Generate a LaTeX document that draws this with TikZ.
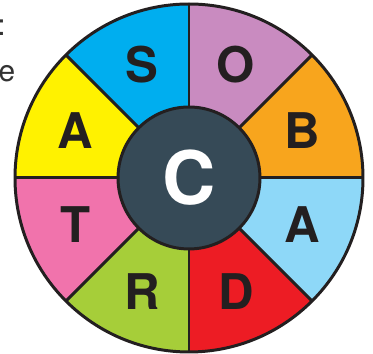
\documentclass[tikz,border=0pt]{standalone}
\usepackage{fontspec}
\setmainfont{TeX Gyre Heros}
\definecolor{ink}{HTML}{231F20}
\definecolor{hub}{HTML}{364A57}
\definecolor{segO}{HTML}{C98BC0}
\definecolor{segB}{HTML}{F8A51D}
\definecolor{segAr}{HTML}{8ED8F8}
\definecolor{segD}{HTML}{ED1C24}
\definecolor{segR}{HTML}{A6CE39}
\definecolor{segT}{HTML}{F173AC}
\definecolor{segAl}{HTML}{FFF200}
\definecolor{segS}{HTML}{00AEEF}
\begin{document}
\begin{tikzpicture}[x=0.02cm,y=0.02cm,
    rim/.style={draw=ink, line width=1.7pt, line join=round},
    lab/.style={font=\bfseries\fontsize{28}{30}\selectfont, text=ink, inner sep=0pt}]
  \useasboundingbox (-189,-176) rectangle (184,178);
  % cut-off text at the left edge
  \node[anchor=east, inner sep=0pt, text=black!80, font=\fontsize{17}{20}\selectfont] (frag1) at (-183,150) {:};
  \node[anchor=east, inner sep=0pt, text=black!80, font=\fontsize{17}{20}\selectfont] (frag2) at (-173.5,104) {ne};
  % sectors, counter-clockwise from the right
  \foreach \col [count=\i from 0] in {segB,segO,segS,segAl,segT,segR,segD,segAr}
    \fill[\col] (0,0) -- (\i*45:174) arc (\i*45:\i*45+45:174) -- cycle;
  \foreach \a in {0,45,...,315}
    \draw[rim] (0,0) -- (\a:174);
  \draw[rim] (0,0) circle (174);
  \foreach \t/\a [count=\i] in {B/22.5,O/67.5,S/112.5,A/157.5,T/202.5,R/247.5,D/292.5,A/337.5}
    \node[lab] (lab\i) at (\a:123) {\t};
  \node[circle, rim, fill=hub, minimum size=2.84cm, inner sep=0pt, text=white,
        font=\bfseries\fontsize{42}{44}\selectfont] (core) at (0,0) {C};
\end{tikzpicture}
\end{document}
